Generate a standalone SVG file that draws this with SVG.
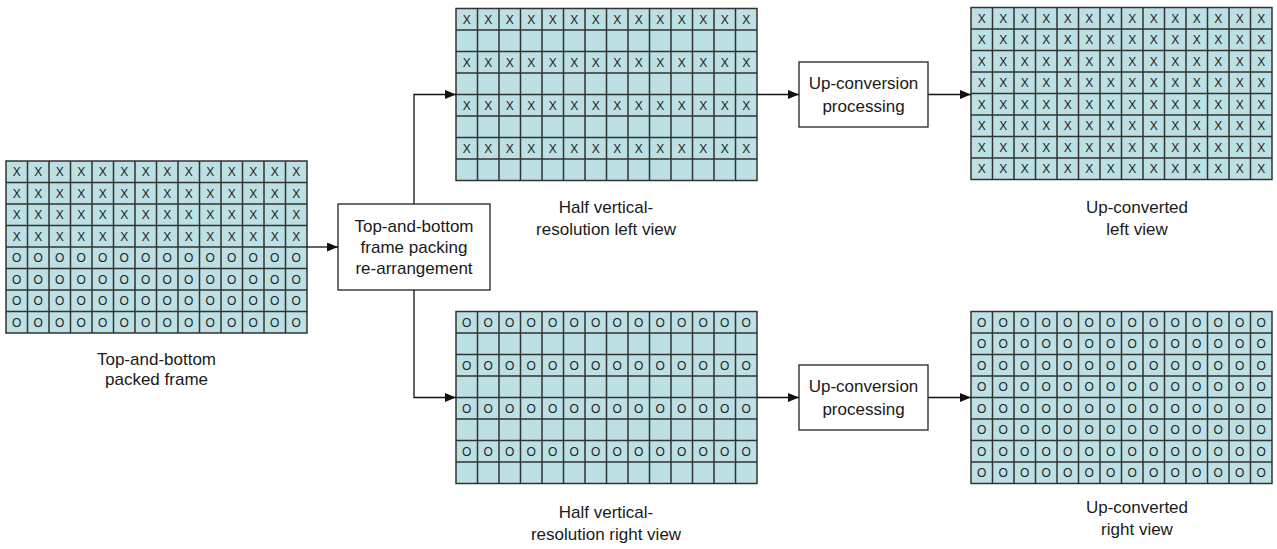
<svg xmlns="http://www.w3.org/2000/svg" xmlns:xlink="http://www.w3.org/1999/xlink" width="1277" height="549" viewBox="0 0 1277 549">
<style>
.cellbg{fill:#BCE0E4;stroke:#333;stroke-width:1.5}
.gl{fill:none;stroke:#333;stroke-width:1.5}
.sym{font-family:"Liberation Sans",Arial,sans-serif;font-size:12px;fill:#222;text-anchor:middle}
.lbl{font-family:"Liberation Sans",Arial,sans-serif;font-size:17px;fill:#1a1a1a;text-anchor:middle}
.box{fill:#fff;stroke:#222;stroke-width:1.3}
.conn{fill:none;stroke:#111;stroke-width:1.3}
</style>
<defs>
<marker id="ah" viewBox="0 0 11 9" refX="11" refY="4.5" markerWidth="11" markerHeight="9" markerUnits="userSpaceOnUse" orient="auto">
<path d="M0,0 L11,4.5 L0,9 Z" fill="#111"/>
</marker>
<g id="grid">
<rect class="cellbg" x="0" y="0" width="301" height="172"/>
<path class="gl" d="M21.5,0V172M43,0V172M64.5,0V172M86,0V172M107.5,0V172M129,0V172M150.5,0V172M172,0V172M193.5,0V172M215,0V172M236.5,0V172M258,0V172M279.5,0V172M0,21.5H301M0,43H301M0,64.5H301M0,86H301M0,107.5H301M0,129H301M0,150.5H301"/>
</g>
</defs>

<g id="packed-frame" transform="translate(6,161)">
<use xlink:href="#grid"/>
<g class="sym">
<text x="10.75 32.25 53.75 75.25 96.75 118.25 139.75 161.25 182.75 204.25 225.75 247.25 268.75 290.25" y="15.2">XXXXXXXXXXXXXX</text>
<text x="10.75 32.25 53.75 75.25 96.75 118.25 139.75 161.25 182.75 204.25 225.75 247.25 268.75 290.25" y="36.7">XXXXXXXXXXXXXX</text>
<text x="10.75 32.25 53.75 75.25 96.75 118.25 139.75 161.25 182.75 204.25 225.75 247.25 268.75 290.25" y="58.2">XXXXXXXXXXXXXX</text>
<text x="10.75 32.25 53.75 75.25 96.75 118.25 139.75 161.25 182.75 204.25 225.75 247.25 268.75 290.25" y="79.7">XXXXXXXXXXXXXX</text>
<text x="10.75 32.25 53.75 75.25 96.75 118.25 139.75 161.25 182.75 204.25 225.75 247.25 268.75 290.25" y="101.2">OOOOOOOOOOOOOO</text>
<text x="10.75 32.25 53.75 75.25 96.75 118.25 139.75 161.25 182.75 204.25 225.75 247.25 268.75 290.25" y="122.7">OOOOOOOOOOOOOO</text>
<text x="10.75 32.25 53.75 75.25 96.75 118.25 139.75 161.25 182.75 204.25 225.75 247.25 268.75 290.25" y="144.2">OOOOOOOOOOOOOO</text>
<text x="10.75 32.25 53.75 75.25 96.75 118.25 139.75 161.25 182.75 204.25 225.75 247.25 268.75 290.25" y="165.7">OOOOOOOOOOOOOO</text>
</g>
</g>
<g id="packed-frame-label" class="lbl">
<text x="156.5" y="365">Top-and-bottom</text>
<text x="156.5" y="385">packed frame</text>
</g>

<g id="rearrange">
<rect class="box" x="338" y="204" width="152" height="86"/>
<text class="lbl" x="414" y="232">Top-and-bottom</text>
<text class="lbl" x="414" y="253">frame packing</text>
<text class="lbl" x="414" y="274">re-arrangement</text>
</g>

<g id="half-left" transform="translate(456,8.5)">
<use xlink:href="#grid"/>
<g class="sym">
<text x="10.75 32.25 53.75 75.25 96.75 118.25 139.75 161.25 182.75 204.25 225.75 247.25 268.75 290.25" y="15.2">XXXXXXXXXXXXXX</text>
<text x="10.75 32.25 53.75 75.25 96.75 118.25 139.75 161.25 182.75 204.25 225.75 247.25 268.75 290.25" y="58.2">XXXXXXXXXXXXXX</text>
<text x="10.75 32.25 53.75 75.25 96.75 118.25 139.75 161.25 182.75 204.25 225.75 247.25 268.75 290.25" y="101.2">XXXXXXXXXXXXXX</text>
<text x="10.75 32.25 53.75 75.25 96.75 118.25 139.75 161.25 182.75 204.25 225.75 247.25 268.75 290.25" y="144.2">XXXXXXXXXXXXXX</text>
</g>
</g>
<g id="half-left-label" class="lbl">
<text x="606" y="213">Half vertical-</text>
<text x="606" y="235">resolution left view</text>
</g>

<g id="half-right" transform="translate(456,311.5)">
<use xlink:href="#grid"/>
<g class="sym">
<text x="10.75 32.25 53.75 75.25 96.75 118.25 139.75 161.25 182.75 204.25 225.75 247.25 268.75 290.25" y="15.2">OOOOOOOOOOOOOO</text>
<text x="10.75 32.25 53.75 75.25 96.75 118.25 139.75 161.25 182.75 204.25 225.75 247.25 268.75 290.25" y="58.2">OOOOOOOOOOOOOO</text>
<text x="10.75 32.25 53.75 75.25 96.75 118.25 139.75 161.25 182.75 204.25 225.75 247.25 268.75 290.25" y="101.2">OOOOOOOOOOOOOO</text>
<text x="10.75 32.25 53.75 75.25 96.75 118.25 139.75 161.25 182.75 204.25 225.75 247.25 268.75 290.25" y="144.2">OOOOOOOOOOOOOO</text>
</g>
</g>
<g id="half-right-label" class="lbl">
<text x="606" y="518">Half vertical-</text>
<text x="606" y="540">resolution right view</text>
</g>

<g id="upconv-top">
<rect class="box" x="799" y="62" width="129" height="65"/>
<text class="lbl" x="863.5" y="89">Up-conversion</text>
<text class="lbl" x="863.5" y="112">processing</text>
</g>
<g id="upconv-bottom">
<rect class="box" x="799" y="365" width="129" height="65"/>
<text class="lbl" x="863.5" y="392">Up-conversion</text>
<text class="lbl" x="863.5" y="415">processing</text>
</g>

<g id="upconverted-left" transform="translate(971,7.5)">
<use xlink:href="#grid"/>
<g class="sym">
<text x="10.75 32.25 53.75 75.25 96.75 118.25 139.75 161.25 182.75 204.25 225.75 247.25 268.75 290.25" y="15.2">XXXXXXXXXXXXXX</text>
<text x="10.75 32.25 53.75 75.25 96.75 118.25 139.75 161.25 182.75 204.25 225.75 247.25 268.75 290.25" y="36.7">XXXXXXXXXXXXXX</text>
<text x="10.75 32.25 53.75 75.25 96.75 118.25 139.75 161.25 182.75 204.25 225.75 247.25 268.75 290.25" y="58.2">XXXXXXXXXXXXXX</text>
<text x="10.75 32.25 53.75 75.25 96.75 118.25 139.75 161.25 182.75 204.25 225.75 247.25 268.75 290.25" y="79.7">XXXXXXXXXXXXXX</text>
<text x="10.75 32.25 53.75 75.25 96.75 118.25 139.75 161.25 182.75 204.25 225.75 247.25 268.75 290.25" y="101.2">XXXXXXXXXXXXXX</text>
<text x="10.75 32.25 53.75 75.25 96.75 118.25 139.75 161.25 182.75 204.25 225.75 247.25 268.75 290.25" y="122.7">XXXXXXXXXXXXXX</text>
<text x="10.75 32.25 53.75 75.25 96.75 118.25 139.75 161.25 182.75 204.25 225.75 247.25 268.75 290.25" y="144.2">XXXXXXXXXXXXXX</text>
<text x="10.75 32.25 53.75 75.25 96.75 118.25 139.75 161.25 182.75 204.25 225.75 247.25 268.75 290.25" y="165.7">XXXXXXXXXXXXXX</text>
</g>
</g>
<g id="upconverted-left-label" class="lbl">
<text x="1137" y="213">Up-converted</text>
<text x="1137" y="235">left view</text>
</g>

<g id="upconverted-right" transform="translate(971,311.5)">
<use xlink:href="#grid"/>
<g class="sym">
<text x="10.75 32.25 53.75 75.25 96.75 118.25 139.75 161.25 182.75 204.25 225.75 247.25 268.75 290.25" y="15.2">OOOOOOOOOOOOOO</text>
<text x="10.75 32.25 53.75 75.25 96.75 118.25 139.75 161.25 182.75 204.25 225.75 247.25 268.75 290.25" y="36.7">OOOOOOOOOOOOOO</text>
<text x="10.75 32.25 53.75 75.25 96.75 118.25 139.75 161.25 182.75 204.25 225.75 247.25 268.75 290.25" y="58.2">OOOOOOOOOOOOOO</text>
<text x="10.75 32.25 53.75 75.25 96.75 118.25 139.75 161.25 182.75 204.25 225.75 247.25 268.75 290.25" y="79.7">OOOOOOOOOOOOOO</text>
<text x="10.75 32.25 53.75 75.25 96.75 118.25 139.75 161.25 182.75 204.25 225.75 247.25 268.75 290.25" y="101.2">OOOOOOOOOOOOOO</text>
<text x="10.75 32.25 53.75 75.25 96.75 118.25 139.75 161.25 182.75 204.25 225.75 247.25 268.75 290.25" y="122.7">OOOOOOOOOOOOOO</text>
<text x="10.75 32.25 53.75 75.25 96.75 118.25 139.75 161.25 182.75 204.25 225.75 247.25 268.75 290.25" y="144.2">OOOOOOOOOOOOOO</text>
<text x="10.75 32.25 53.75 75.25 96.75 118.25 139.75 161.25 182.75 204.25 225.75 247.25 268.75 290.25" y="165.7">OOOOOOOOOOOOOO</text>
</g>
</g>
<g id="upconverted-right-label" class="lbl">
<text x="1137" y="513">Up-converted</text>
<text x="1137" y="535">right view</text>
</g>

<g id="connectors" class="conn">
<path d="M307,247 H338" marker-end="url(#ah)"/>
<path d="M414,204 V94.5 H456" marker-end="url(#ah)"/>
<path d="M414,290 V397.5 H456" marker-end="url(#ah)"/>
<path d="M757,94.5 H799" marker-end="url(#ah)"/>
<path d="M928,94.5 H971" marker-end="url(#ah)"/>
<path d="M757,397.5 H799" marker-end="url(#ah)"/>
<path d="M928,397.5 H971" marker-end="url(#ah)"/>
</g>
</svg>
